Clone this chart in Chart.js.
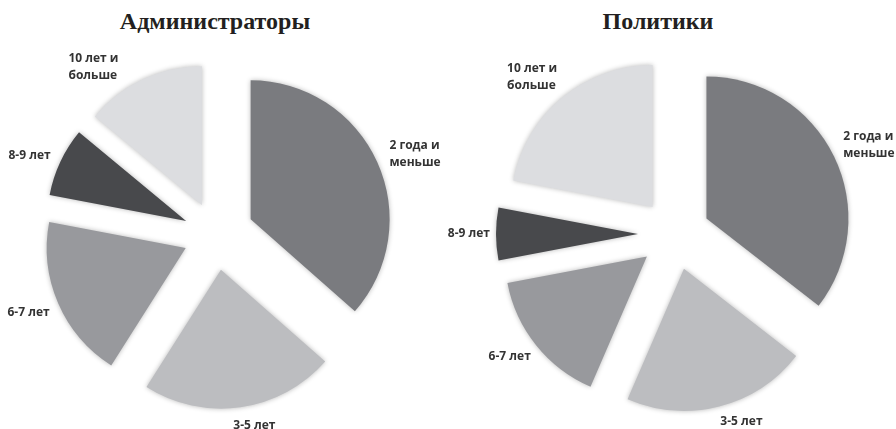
<!DOCTYPE html>
<html lang="ru">
<head>
  <meta charset="UTF-8">
  <title>Стаж</title>
  <script src="https://cdn.jsdelivr.net/npm/chart.js"></script>
  <style>
    * { margin: 0; padding: 0; box-sizing: border-box; }
    body { width: 896px; height: 429px; background: #fff; overflow: hidden; position: relative; }
    canvas { position: absolute; top: 0; }
    #adminChart { left: 0; }
    #politChart { left: 400px; }
    .title {
      position: absolute;
      top: 9px;
      font-family: 'Liberation Serif', serif;
      font-weight: bold;
      font-size: 24px;
      line-height: 24px;
      color: #231f20;
      text-align: center;
    }
    #adminTitle { left: 0; width: 430px; }
    #politTitle { left: 548px; width: 220px; }
  </style>
</head>
<body>
  <div class="title" id="adminTitle">Администраторы</div>
  <div class="title" id="politTitle">Политики</div>
  <canvas id="adminChart" width="448" height="429"></canvas>
  <canvas id="politChart" width="496" height="429"></canvas>

  <script>
    // categories (multi-line labels as arrays)
    const categories = [
      ['2 года и', 'меньше'],
      ['3-5 лет'],
      ['6-7 лет'],
      ['8-9 лет'],
      ['10 лет и', 'больше']
    ];

    // shares, %
    const adminValues = [36.5, 22.5, 19, 8, 14];
    const politValues = [35.5, 21, 15.5, 6, 22];

    const sliceColors = ['#7a7b7f', '#bcbdc0', '#98999d', '#48494c', '#dcdde0'];

    // how far each slice is pulled out of the pie, px
    const adminExplode = [38, 35, 33, 33, 33];
    const politExplode = [35, 36, 36, 37, 35];

    // small angular nudges of the outside labels, degrees
    const adminLabelNudge = [2.5, -4, 1.2, -2.5, -12.9];
    const politLabelNudge = [1.7, -6.2, 2.5, 0, -3.2];

    // draws each arc shifted along its mid angle, with a soft shadow
    const explodePlugin = {
      id: 'explode',
      beforeDatasetDraw(chart, args) {
        const ctx = chart.ctx;
        const explode = chart.options.plugins.explode.distances;
        const meta = args.meta;
        meta.data.forEach((arc, i) => {
          const mid = (arc.startAngle + arc.endAngle) / 2;
          ctx.save();
          ctx.translate(Math.cos(mid) * explode[i], Math.sin(mid) * explode[i]);
          ctx.shadowColor = 'rgba(0, 0, 0, 0.28)';
          ctx.shadowBlur = 5;
          arc.draw(ctx);
          ctx.restore();
        });
        return false;
      }
    };

    // outside labels, placed just beyond each slice's rim
    const outsideLabels = {
      id: 'outsideLabels',
      afterDatasetsDraw(chart) {
        const ctx = chart.ctx;
        const opts = chart.options.plugins.outsideLabels;
        const explode = chart.options.plugins.explode.distances;
        const meta = chart.getDatasetMeta(0);
        const lineH = 17;
        ctx.save();
        ctx.font = 'bold 12px "Open Sans"';
        ctx.fillStyle = '#333333';
        ctx.textBaseline = 'middle';
        ctx.textAlign = 'left';
        meta.data.forEach((arc, i) => {
          const mid = (arc.startAngle + arc.endAngle) / 2;
          const ax = arc.x + Math.cos(mid) * explode[i];
          const ay = arc.y + Math.sin(mid) * explode[i];
          const a = mid + opts.nudge[i] * Math.PI / 180;
          const ux = Math.cos(a), uy = Math.sin(a);
          const lines = chart.data.labels[i];
          const w = Math.max(...lines.map(l => ctx.measureText(l).width));
          const h = lines.length * lineH;
          const ext = Math.abs(ux) * w / 2 + Math.abs(uy) * h / 2;
          const d = arc.outerRadius + opts.pad + ext;
          const cx = ax + ux * d;
          const cy = ay + uy * d;
          lines.forEach((l, k) => {
            ctx.fillText(l, cx - w / 2, cy - h / 2 + lineH * (k + 0.5));
          });
        });
        ctx.restore();
      }
    };

    function makePie(id, values, radius, padding, explode, nudge, pad) {
      return new Chart(document.getElementById(id), {
        type: 'pie',
        data: {
          labels: categories,
          datasets: [{
            data: values,
            backgroundColor: sliceColors,
            borderWidth: 0
          }]
        },
        options: {
          responsive: false,
          animation: false,
          radius: radius,
          layout: { padding: padding },
          plugins: {
            legend: { display: false },
            tooltip: { enabled: false },
            explode: { distances: explode },
            outsideLabels: { nudge: nudge, pad: pad }
          }
        },
        plugins: [explodePlugin, outsideLabels]
      });
    }

    makePie('adminChart', adminValues, 139, { left: 0, right: 16, top: 41, bottom: 0 }, adminExplode, adminLabelNudge, 8);
    makePie('politChart', politValues, 142, { left: 54, right: 0, top: 39, bottom: 0 }, politExplode, politLabelNudge, 6);
  </script>
</body>
</html>
